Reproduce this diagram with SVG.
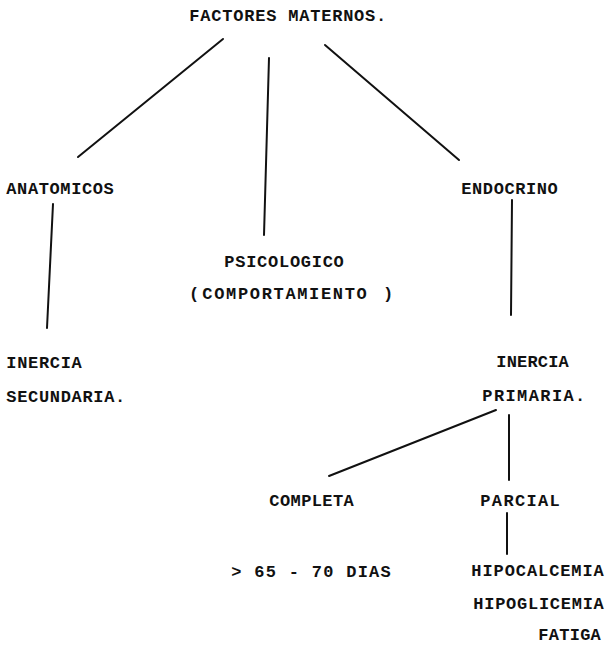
<svg xmlns="http://www.w3.org/2000/svg" width="606" height="645" viewBox="0 0 606 645">
<style>
.t{font-family:"Liberation Mono","DejaVu Sans Mono",monospace;font-size:17px;font-weight:bold;fill:#111}
.c line{stroke:#111;stroke-width:2;stroke-linecap:round}
</style>
<rect x="0" y="0" width="606" height="645" fill="#fff"/>
<g id="connectors" class="c">
<line x1="223" y1="39" x2="78" y2="157"/>
<line x1="269" y1="58" x2="264" y2="235"/>
<line x1="325" y1="45" x2="459" y2="160"/>
<line x1="53" y1="204" x2="47" y2="328"/>
<line x1="512" y1="200" x2="511" y2="315"/>
<line x1="496" y1="410" x2="329" y2="476"/>
<line x1="509" y1="415" x2="509" y2="480"/>
<line x1="507" y1="513" x2="507" y2="554"/>
</g>
<g id="factores"><text class="t" x="189.3" y="21" textLength="197" lengthAdjust="spacing">FACTORES MATERNOS.</text></g>
<g id="anatomicos"><text class="t" x="6.3" y="194" textLength="107.5" lengthAdjust="spacing">ANATOMICOS</text></g>
<g id="endocrino"><text class="t" x="461.3" y="194" textLength="96.5" lengthAdjust="spacing">ENDOCRINO</text></g>
<g id="psicologico">
<text class="t" x="224.3" y="267" textLength="119.5" lengthAdjust="spacing">PSICOLOGICO</text>
<text class="t" y="299"><tspan x="189">(</tspan> <tspan x="202.3" textLength="164.5" lengthAdjust="spacing">COMPORTAMIENTO</tspan> <tspan x="383">)</tspan></text>
</g>
<g id="inercia-secundaria">
<text class="t" x="6.3" y="368" textLength="75.5" lengthAdjust="spacing">INERCIA</text>
<text class="t" x="6.3" y="402" textLength="119" lengthAdjust="spacing">SECUNDARIA.</text>
</g>
<g id="inercia-primaria">
<text class="t" x="496.3" y="367" textLength="72.5" lengthAdjust="spacing">INERCIA</text>
<text class="t" x="482.3" y="401" textLength="103" lengthAdjust="spacing">PRIMARIA.</text>
</g>
<g id="completa">
<text class="t" x="269.3" y="506" textLength="84.5" lengthAdjust="spacing">COMPLETA</text>
<text class="t" x="231.3" y="577" textLength="159.5" lengthAdjust="spacing">&gt; 65 - 70 DIAS</text>
</g>
<g id="parcial">
<text class="t" x="480.3" y="506" textLength="79.5" lengthAdjust="spacing">PARCIAL</text>
<text class="t" x="471.3" y="576" textLength="132.5" lengthAdjust="spacing">HIPOCALCEMIA</text>
<text class="t" x="473.3" y="609" textLength="130.5" lengthAdjust="spacing">HIPOGLICEMIA</text>
<text class="t" x="538.3" y="640" textLength="62.5" lengthAdjust="spacing">FATIGA</text>
</g>
</svg>
